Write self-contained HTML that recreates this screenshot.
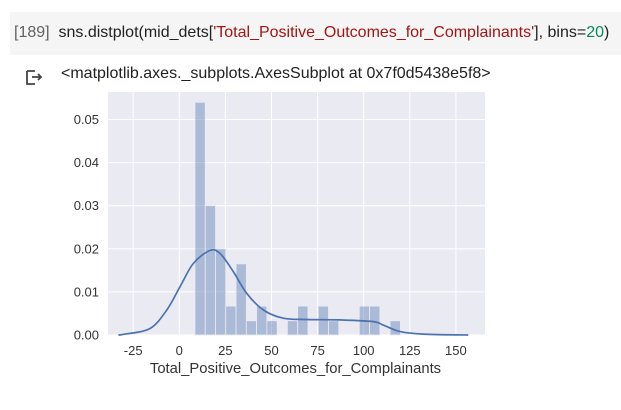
<!DOCTYPE html>
<html><head><meta charset="utf-8"><style>
body{margin:0;width:621px;height:410px;background:#fff;font-family:"Liberation Sans",sans-serif;overflow:hidden;position:relative}
.cell{position:absolute;left:10px;top:12px;width:611px;height:43px;background:#f5f5f5}
.code{position:absolute;left:14px;top:24px;font-size:16px;color:#212121;white-space:nowrap}
.out{position:absolute;left:61px;top:65px;font-size:16px;color:#212121}
</style></head><body>
<div class="cell"></div>
<div class="code"><span style="color:#616161">[189]</span>&nbsp; sns.distplot(mid_dets[<span style="color:#a31515">'Total_Positive_Outcomes_for_Complainants'</span>], bins=<span style="color:#098658">20</span>)</div>
<svg style="position:absolute;left:24px;top:68px" width="18" height="18"><path d="M3 3h8M3 3v13h8M8 9h9M14 6l3 3-3 3" stroke="#444" stroke-width="1.8" fill="none"/></svg>
<div class="out">&lt;matplotlib.axes._subplots.AxesSubplot at 0x7f0d5438e5f8&gt;</div>
<svg id="c" width="621" height="410" style="position:absolute;left:0;top:0"></svg>
<script>
const binStart=8.5, binWidth=5.57;
const binHeights=[0.054,0.030,0.020,0.0067,0.0165,0.0033,0.0067,0.0033,0,0.0033,0.0067,0,0.0067,0.0033,0,0,0.0067,0.0067,0,0.0033];
const kdeX=[-33,-29.4,-15.9,-6.8,0.4,7.6,16.6,22.1,29.3,36.5,45.6,56.4,69.1,87.1,105.2,110.6,119.7,132.3,156.7];
const kdeY=[0,0.0002,0.0015,0.0058,0.0112,0.0166,0.0196,0.0189,0.0147,0.0097,0.0058,0.0039,0.0036,0.0035,0.0031,0.0023,0.0008,0.0002,0];
const xTicks=[-25,0,25,50,75,100,125,150];
const yTicks=[0,0.01,0.02,0.03,0.04,0.05];
const L=108,R=485,T=92,B=335;
const sx=v=>179.3+v*1.844, sy=v=>335-v*4310;
const ns="http://www.w3.org/2000/svg",svg=document.getElementById('c');
function mk(t,a,p){const e=document.createElementNS(ns,t);for(const k in a)e.setAttribute(k,a[k]);(p||svg).appendChild(e);return e;}
const bg=mk('rect',{x:L,y:T,width:R-L,height:B-T,fill:'#eaeaf2'});


xTicks.forEach(v=>{
 const g=mk('line',{x1:sx(v),x2:sx(v),y1:T,y2:B,stroke:'#fff','stroke-width':1});
 
 
 const t=mk('text',{x:sx(v),y:355,'text-anchor':'middle','font-size':13,fill:'#333'});t.textContent=v;
 
 
});
yTicks.forEach(v=>{
 const g=mk('line',{x1:L,x2:R,y1:sy(v),y2:sy(v),stroke:'#fff','stroke-width':1});
 
 
 const t=mk('text',{x:99,y:sy(v)+4.5,'text-anchor':'end','font-size':13,fill:'#333'});t.textContent=v.toFixed(2);
 
 
});
binHeights.forEach((h,i)=>{
 if(!h)return;
 const x0=sx(binStart+i*binWidth),x1=sx(binStart+(i+1)*binWidth);
 const r=mk('rect',{x:x0,y:sy(h),width:x1-x0,height:sy(0)-sy(h),fill:'#4c72b0','fill-opacity':0.4,stroke:'#eaeaf2','stroke-width':0.8});
 
 
});
const pts=kdeX.map((x,i)=>[sx(x),sy(kdeY[i])]);
let d='M'+pts[0][0].toFixed(1)+' '+pts[0][1].toFixed(1);
for(let i=0;i<pts.length-1;i++){
 const p0=pts[Math.max(0,i-1)],p1=pts[i],p2=pts[i+1],p3=pts[Math.min(pts.length-1,i+2)];
 const c1=[p1[0]+(p2[0]-p0[0])/6,p1[1]+(p2[1]-p0[1])/6],c2=[p2[0]-(p3[0]-p1[0])/6,p2[1]-(p3[1]-p1[1])/6];
 d+='C'+c1.map(n=>n.toFixed(1)).join(' ')+' '+c2.map(n=>n.toFixed(1)).join(' ')+' '+p2.map(n=>n.toFixed(1)).join(' ');
}
const p=mk('path',{d:d,fill:'none',stroke:'#4c72b0','stroke-width':1.7,'stroke-linejoin':'round'});


const xl=mk('text',{x:(L+R)/2-1,y:373,'text-anchor':'middle','font-size':14.8,fill:'#333'});xl.textContent='Total_Positive_Outcomes_for_Complainants';


</script>
</body></html>
